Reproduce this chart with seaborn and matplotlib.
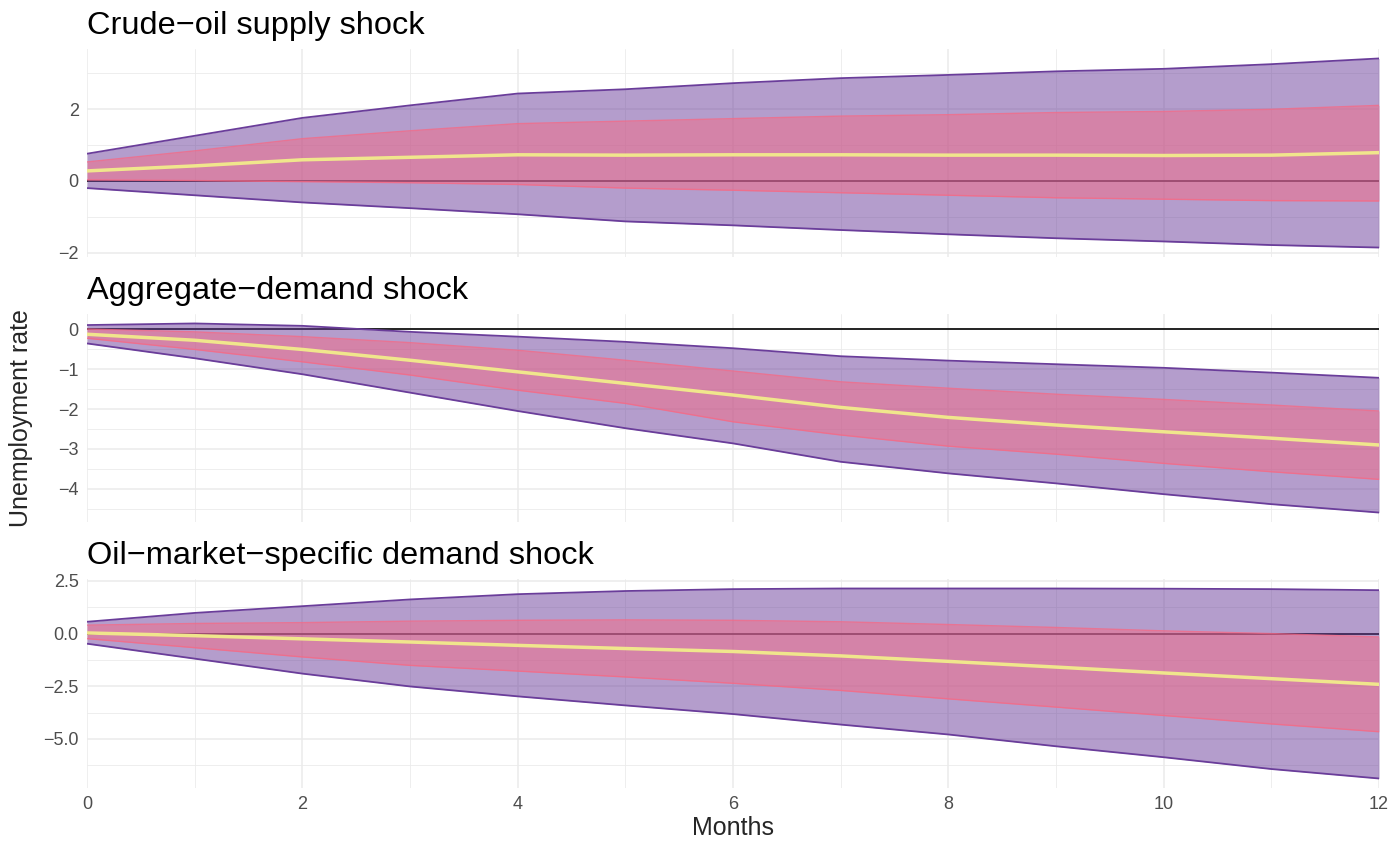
import pandas as pd
import numpy as np
import matplotlib
matplotlib.use("Agg")
import matplotlib.pyplot as plt
import seaborn as sns
from matplotlib.ticker import AutoMinorLocator, FuncFormatter

sns.set_theme(style="whitegrid")
plt.rcParams["font.family"] = ["Liberation Sans", "DejaVu Sans"]

months = list(range(13))

# crude-oil supply shock
supply_med = [0.28, 0.42, 0.59, 0.66, 0.73, 0.72, 0.73, 0.73, 0.72, 0.72, 0.71, 0.72, 0.79]
supply_lo68 = [0.03, 0.01, -0.02, -0.05, -0.10, -0.20, -0.26, -0.33, -0.40, -0.47, -0.51, -0.55, -0.56]
supply_hi68 = [0.53, 0.84, 1.18, 1.40, 1.60, 1.67, 1.74, 1.81, 1.85, 1.91, 1.94, 2.00, 2.11]
supply_lo95 = [-0.20, -0.40, -0.60, -0.76, -0.93, -1.13, -1.24, -1.37, -1.49, -1.60, -1.69, -1.79, -1.86]
supply_hi95 = [0.76, 1.26, 1.76, 2.11, 2.44, 2.56, 2.73, 2.87, 2.96, 3.06, 3.13, 3.26, 3.42]

# aggregate-demand shock
demand_med = [-0.13, -0.28, -0.51, -0.78, -1.07, -1.36, -1.65, -1.96, -2.21, -2.40, -2.57, -2.73, -2.90]
demand_lo68 = [-0.23, -0.51, -0.82, -1.15, -1.53, -1.86, -2.32, -2.65, -2.93, -3.13, -3.36, -3.57, -3.76]
demand_hi68 = [0.00, -0.07, -0.19, -0.34, -0.53, -0.78, -1.05, -1.32, -1.48, -1.63, -1.76, -1.90, -2.05]
demand_lo95 = [-0.36, -0.73, -1.13, -1.59, -2.05, -2.48, -2.86, -3.32, -3.61, -3.86, -4.13, -4.38, -4.59]
demand_hi95 = [0.10, 0.14, 0.08, -0.07, -0.19, -0.32, -0.48, -0.68, -0.79, -0.88, -0.97, -1.09, -1.22]

# oil-market-specific demand shock
oil_med = [0.03, -0.10, -0.25, -0.40, -0.56, -0.71, -0.85, -1.06, -1.32, -1.59, -1.87, -2.14, -2.41]
oil_lo68 = [-0.24, -0.67, -1.11, -1.51, -1.78, -2.06, -2.36, -2.70, -3.10, -3.49, -3.89, -4.29, -4.66]
oil_hi68 = [0.40, 0.48, 0.52, 0.59, 0.63, 0.65, 0.63, 0.56, 0.43, 0.29, 0.13, 0.00, -0.16]
oil_lo95 = [-0.48, -1.19, -1.90, -2.51, -2.98, -3.41, -3.82, -4.32, -4.79, -5.35, -5.87, -6.43, -6.88]
oil_hi95 = [0.56, 0.98, 1.30, 1.62, 1.87, 2.02, 2.11, 2.14, 2.14, 2.14, 2.13, 2.11, 2.06]

titles = ["Crude\u2212oil supply shock", "Aggregate\u2212demand shock",
          "Oil\u2212market\u2212specific demand shock"]
supply_ticks = [-2, 0, 2]
demand_ticks = [0, -1, -2, -3, -4]
oil_ticks = [2.5, 0, -2.5, -5]

panels = [
    (titles[0], supply_med, supply_lo68, supply_hi68, supply_lo95, supply_hi95, supply_ticks, "{:g}"),
    (titles[1], demand_med, demand_lo68, demand_hi68, demand_lo95, demand_hi95, demand_ticks, "{:g}"),
    (titles[2], oil_med, oil_lo68, oil_hi68, oil_lo95, oil_hi95, oil_ticks, "{:.1f}"),
]

purple = "#6A3D9A"
pink = "#F56A86"
yellow = "#F0E68C"
grid_col = "#EBEBEB"
tick_col = "#4D4D4D"


def minus_fmt(fmt):
    # real minus sign, like the R output
    return FuncFormatter(lambda v, pos: fmt.format(v).replace("-", "\u2212"))


fig = plt.figure(figsize=(13.89, 8.46), dpi=100)
# left, bottom, width, height in figure fractions
boxes = [
    [87 / 1389, 1 - 257 / 846, 1292 / 1389, 208 / 846],
    [87 / 1389, 1 - 522 / 846, 1292 / 1389, 208 / 846],
    [87 / 1389, 1 - 788 / 846, 1292 / 1389, 209 / 846],
]

for i, (title, med, lo68, hi68, lo95, hi95, yt, fmt) in enumerate(panels):
    ax = fig.add_axes(boxes[i])
    df = pd.DataFrame({"month": months, "med": med, "lo68": lo68, "hi68": hi68,
                       "lo95": lo95, "hi95": hi95})
    ax.axhline(0, color="black", lw=1.2, zorder=1)
    ax.fill_between(df["month"], df["lo95"], df["hi95"], color=purple, alpha=0.5, lw=0, zorder=2)
    ax.fill_between(df["month"], df["lo68"], df["hi68"], color=pink, alpha=0.5, lw=0, zorder=3)
    for col in ["lo95", "hi95"]:
        sns.lineplot(data=df, x="month", y=col, ax=ax, color=purple, lw=1.3, zorder=4)
    for col in ["lo68", "hi68"]:
        sns.lineplot(data=df, x="month", y=col, ax=ax, color=pink, lw=1.0, alpha=0.8, zorder=4)
    sns.lineplot(data=df, x="month", y="med", ax=ax, color=yellow, lw=2.5, zorder=5)

    ax.set_xlim(0, 12)
    ax.margins(y=0.05)
    ax.set_xticks([0, 2, 4, 6, 8, 10, 12])
    ax.set_yticks(yt)
    ax.yaxis.set_major_formatter(minus_fmt(fmt))
    ax.xaxis.set_minor_locator(AutoMinorLocator(2))
    ax.yaxis.set_minor_locator(AutoMinorLocator(2))
    ax.grid(which="major", color=grid_col, lw=1.1)
    ax.grid(which="minor", color=grid_col, lw=0.6)
    ax.set_axisbelow(True)
    ax.set_facecolor("white")
    for s in ax.spines.values():
        s.set_visible(False)
    ax.tick_params(axis="both", which="both", length=0, labelsize=13, colors=tick_col, pad=6)
    ax.set_xlabel("")
    ax.set_ylabel("")
    if i < 2:
        ax.set_xticklabels([])
    ax.set_title(title, loc="left", fontsize=23.4, pad=11, color="black")

fig.text(733 / 1389, 1 - 828 / 846, "Months", ha="center", va="center", fontsize=18)
fig.text(21 / 1389, 1 - 418 / 846, "Unemployment rate", ha="center", va="center",
         rotation=90, fontsize=18)

fig.savefig("out.png", dpi=100, facecolor="white")
